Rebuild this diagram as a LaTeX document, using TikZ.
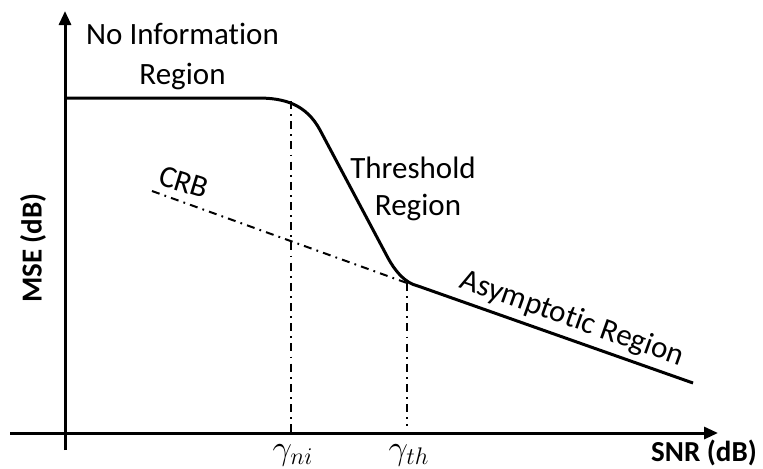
\documentclass[tikz,border=0pt]{standalone}
\usepackage{fontspec}
\setmainfont[Ligatures=CommonOff]{Carlito}
\usetikzlibrary{arrows.meta}
\begin{document}
\begin{tikzpicture}[x=0.5pt,y=-0.5pt,
  axis/.style={line width=1.5pt,-{Triangle[length=7pt,width=6pt]}},
  curve/.style={line width=1.5pt,line join=round},
  dashdot/.style={line width=1pt,dash pattern=on 4pt off 2.6pt on 0.9pt off 2.6pt},
  lbl/.style={font=\fontsize{15.5}{19}\selectfont,inner sep=0pt,anchor=base},
  axlbl/.style={font=\fontsize{14.5}{17}\selectfont\bfseries,inner sep=0pt},
  gam/.style={font=\fontsize{18}{21}\selectfont,inner sep=0pt}]
\useasboundingbox (0,0) rectangle (763,468);
% axes
\coordinate (ybot) at (65,450);
\coordinate (ytop) at (65,11);
\coordinate (xleft) at (10,433);
\coordinate (xright) at (718,433);
\draw[axis] (ybot) -- (ytop);
\draw[axis] (xleft) -- (xright);
% key points
\coordinate (start) at (65,98);
\coordinate (ni) at (291,101);
\coordinate (th) at (407,283);
\coordinate (crbs) at (152,191);
\coordinate (aend) at (693,383);
\coordinate (nibot) at (291,433);
\coordinate (thbot) at (407,426);
% verticals and CRB
\draw[dashdot] (ni) -- (nibot);
\draw[dashdot] (th) -- (thbot);
\draw[dashdot] (crbs) -- (th);
% MSE curve
\draw[curve] (start) -- (258,98) .. controls (284,98) and (306,104) .. (320,130)
  -- (388,258) .. controls (394,269) and (404,283) .. (418,286) -- (aend);
% labels
\node[lbl] (noinfo1) at (182.5,44) {No Information};
\node[lbl] (noinfo2) at (182.5,84) {Region};
\node[lbl] (thr1) at (413,178) {Threshold};
\node[lbl] (thr2) at (418,215) {Region};
\node[lbl,anchor=center,rotate=-17] (crb) at (184,182) {CRB};
\node[lbl,anchor=center,rotate=-19.6] (asym) at (572,319) {Asymptotic Region};
\node[axlbl,rotate=90] (mse) at (33,248) {MSE (dB)};
\node[axlbl] (snr) at (704,453) {SNR (dB)};
\node[gam] (gni) at (293,455) {$\gamma_{ni}$};
\node[gam] (gth) at (409,455) {$\gamma_{th}$};
\end{tikzpicture}
\end{document}
